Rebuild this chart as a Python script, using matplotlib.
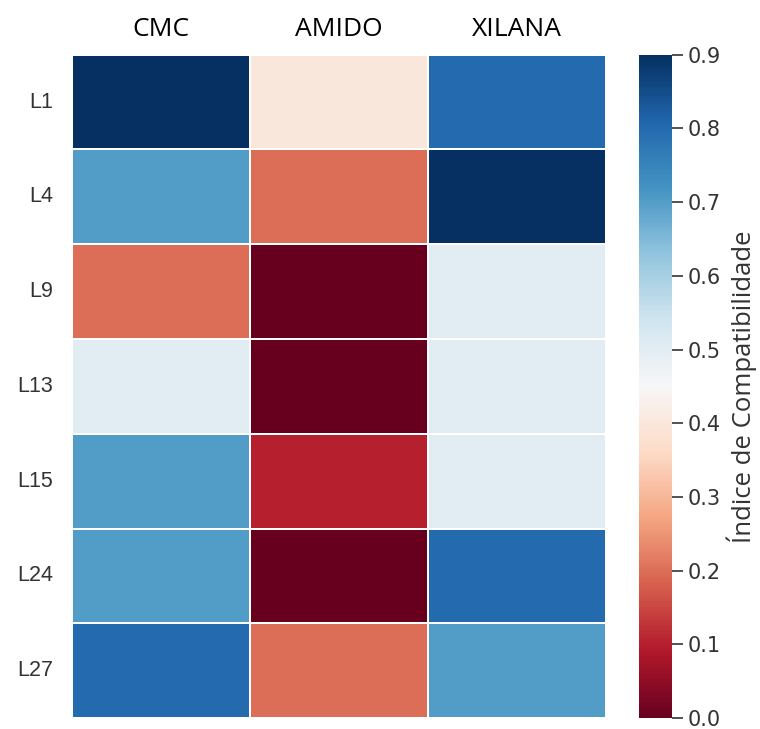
import numpy as np
import matplotlib.pyplot as plt
import seaborn as sns

# compatibility index per strain (rows) and substrate (columns)
linhagens = ['L1', 'L4', 'L9', 'L13', 'L15', 'L24', 'L27']
substratos = ['CMC', 'AMIDO', 'XILANA']
cmc = [0.9, 0.7, 0.2, 0.5, 0.7, 0.7, 0.8]
amido = [0.4, 0.2, 0.0, 0.0, 0.1, 0.0, 0.2]
xilana = [0.8, 0.9, 0.5, 0.5, 0.5, 0.8, 0.7]

dados = np.array([cmc, amido, xilana]).T

sns.set_style('ticks')
fig = plt.figure(figsize=(7.6, 7.29), dpi=100)
ax = fig.add_axes([0.095, 0.015, 0.702, 0.91])
cax = fig.add_axes([0.841, 0.015, 0.043, 0.91])

sns.heatmap(dados, ax=ax, cbar_ax=cax, cmap='RdBu', vmin=0, vmax=0.9,
            linewidths=1.2, linecolor='white',
            xticklabels=substratos, yticklabels=linhagens)

# substrate names across the top
ax.xaxis.tick_top()
ax.set_xticklabels(substratos, family='Open Sans', fontsize=19, color='black')
ax.set_yticklabels(linhagens, rotation=0, family='Liberation Sans',
                   fontsize=15.5, color='#333333')
ax.tick_params(axis='both', length=0)
ax.tick_params(axis='x', pad=9)
ax.tick_params(axis='y', pad=14)

cax.set_yticks(np.arange(0, 0.91, 0.1))
cax.set_yticklabels(['%.1f' % v for v in np.arange(0, 0.91, 0.1)],
                    fontsize=15, color='#333333')
cax.tick_params(axis='y', length=8, width=1.2, colors='#333333')
cax.set_ylabel('Índice de Compatibilidade', family='Open Sans', fontsize=18.5,
               color='#333333', labelpad=4)
for s in cax.spines.values():
    s.set_visible(False)

fig.savefig('out.png', dpi=100)
